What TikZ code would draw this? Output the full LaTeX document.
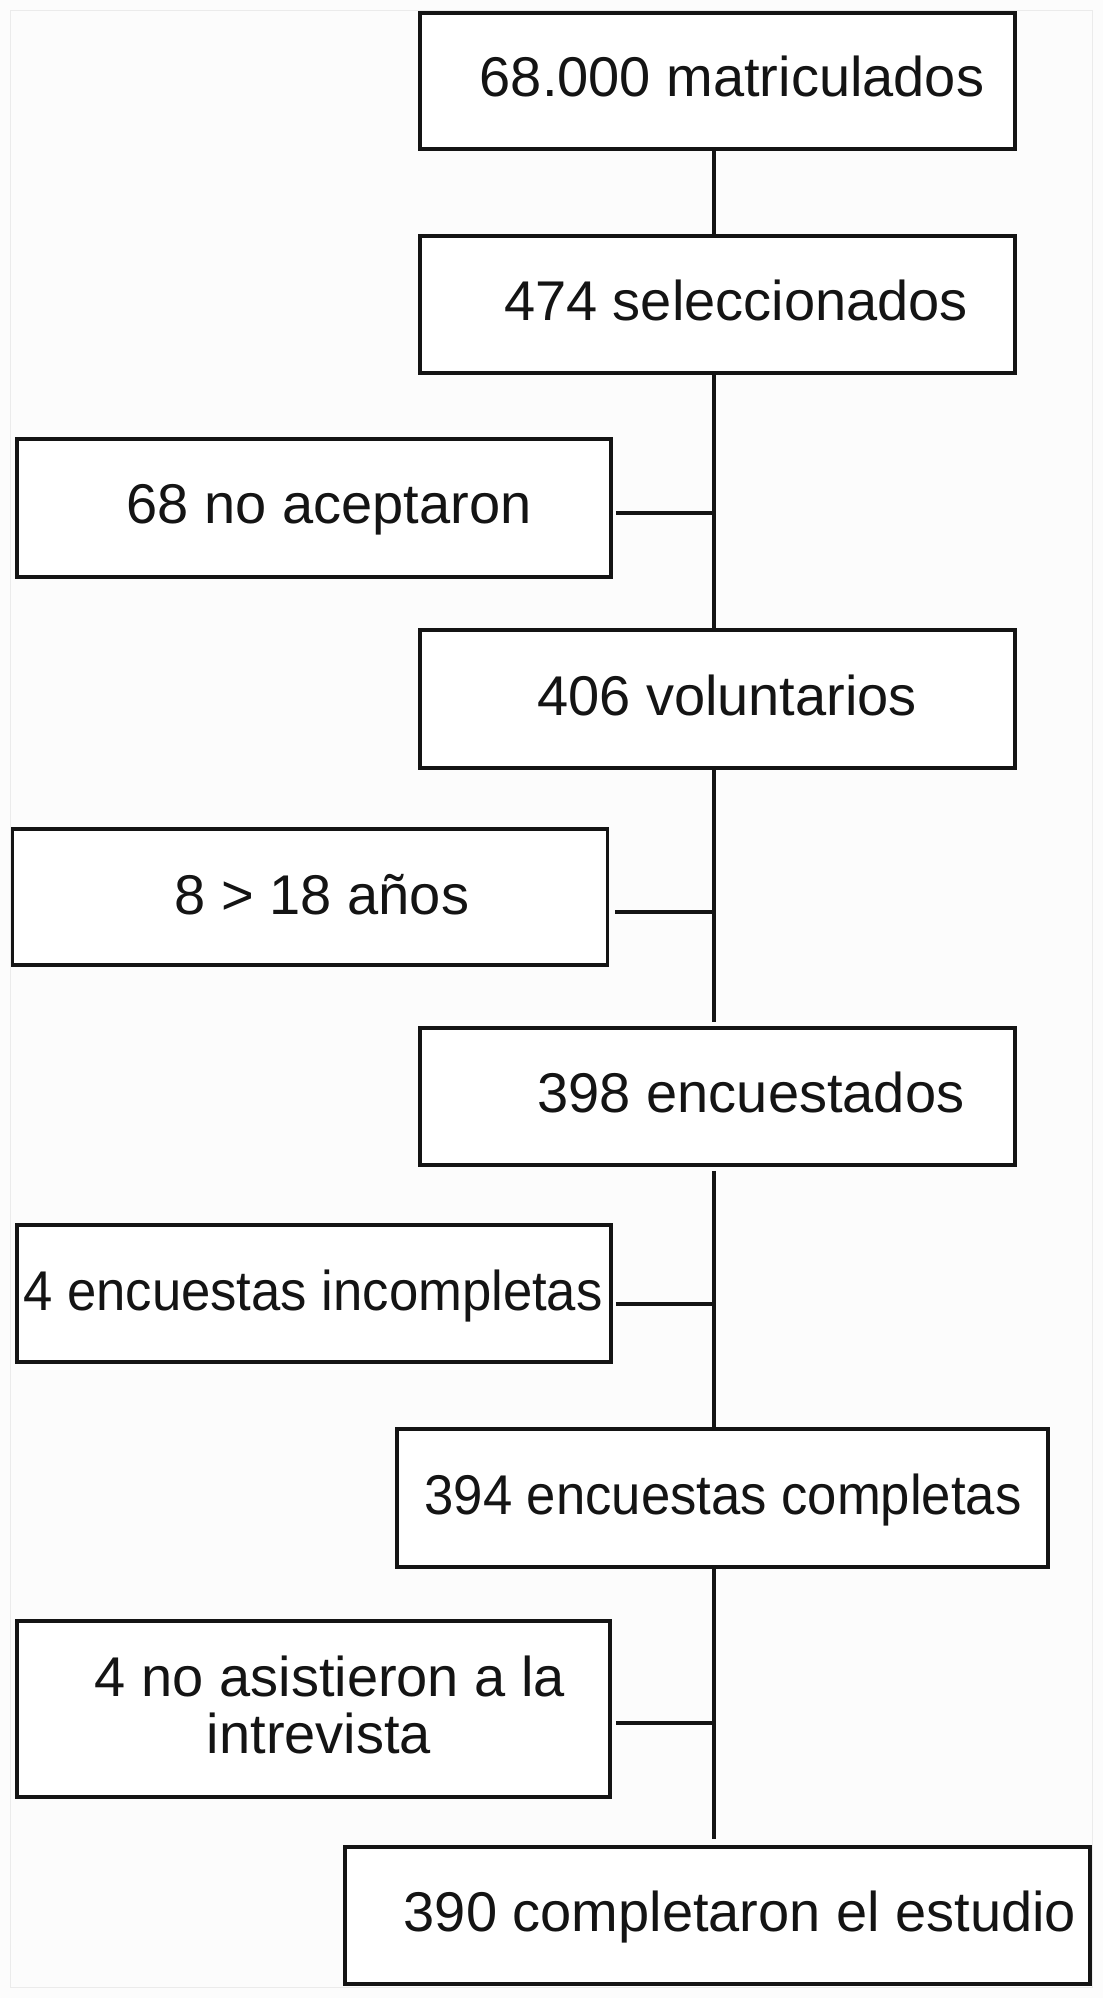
\documentclass[tikz,border=0pt]{standalone}
\usepackage{fontspec}
\setmainfont{Liberation Sans}
\definecolor{ink}{HTML}{141414}
\begin{document}
\begin{tikzpicture}[x=1pt,y=-1pt,
  box/.style={draw=ink, line width=3.6pt, fill=white, inner sep=0pt, minimum width=#1},
  box/.default=595,
  txt/.style={anchor=base, inner sep=0pt, font=\fontsize{56}{57}\selectfont, text=ink},
  link/.style={draw=ink, line width=3.8pt}]
\useasboundingbox (0,0) rectangle (1103,1998);
\fill[white!99!black] (0,0) rectangle (1103,1998);
\draw[black!8, line width=1pt] (10,10) rectangle (1092,1987);
% main column boxes
\node[box, minimum height=136] (b1) at (717.5,81) {};
\node[box, minimum height=137] (b2) at (717.5,304.5) {};
\node[box, minimum height=138] (b4) at (717.5,699) {};
\node[box, minimum height=137] (b6) at (717.5,1096.5) {};
\node[box=651, minimum height=138] (b8) at (722.5,1498) {};
\node[box=745, minimum height=137] (b10) at (717.5,1915.5) {};
% side boxes
\node[box=594, minimum height=138] (b3) at (314,508) {};
\node[box=595, minimum height=136] (b5) at (310,897) {};
\node[box=594, minimum height=137] (b7) at (314,1293.5) {};
\node[box=593, minimum height=176] (b9) at (313.5,1709) {};
% texts
\node[txt] (t1) at (732,96) {68.000 matriculados};
\node[txt] (t2) at (736,320) {474 seleccionados};
\node[txt] (t3) at (329,523) {68 no aceptaron};
\node[txt] (t4) at (727,715) {406 voluntarios};
\node[txt] (t5) at (322,914) {8 > 18 años};
\node[txt] (t6) at (751,1112) {398 encuestados};
\node[txt] (t7) at (313,1310) {\scalebox{0.94}[1]{4 encuestas incompletas}};
\node[txt] (t8) at (723,1514) {\scalebox{0.94}[1]{394 encuestas completas}};
\node[txt] (t9a) at (330,1696) {4 no asistieron a la};
\node[txt] (t9b) at (319,1753) {intrevista};
\node[txt] (t10) at (740,1931) {390 completaron el estudio};
% spine
\coordinate (sp) at (714,0);
\coordinate (j3) at (714,513);
\coordinate (j5) at (714,912);
\coordinate (j7) at (714,1304);
\coordinate (j9) at (714,1723);
\draw[link] (b1.south -| sp) -- (b2.north -| sp);
\draw[link] (b2.south -| sp) -- (b4.north -| sp);
\draw[link, shorten >=4pt] (b4.south -| sp) -- (b6.north -| sp);
\draw[link, shorten <=4pt] (b6.south -| sp) -- (b8.north -| sp);
\draw[link, shorten >=6pt] (b8.south -| sp) -- (b10.north -| sp);
% branches
\draw[link, shorten <=3pt] (b3.east |- j3) -- (j3);
\draw[link, shorten <=6pt] (b5.east |- j5) -- (j5);
\draw[link, shorten <=3pt] (b7.east |- j7) -- (j7);
\draw[link, shorten <=4pt] (b9.east |- j9) -- (j9);
\end{tikzpicture}
\end{document}
